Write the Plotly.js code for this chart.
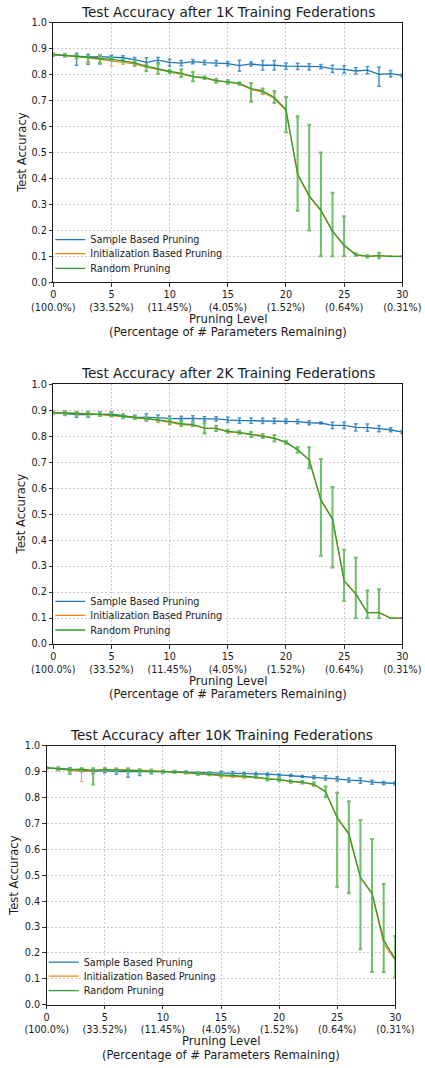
<!DOCTYPE html>
<html>
<head>
<meta charset="utf-8">
<script src="https://cdn.plot.ly/plotly-3.0.1.min.js"></script>
<style>html,body{margin:0;padding:0;background:#fff;}#chart{width:425px;height:1068px;}</style>
</head>
<body>
<div id="chart"></div>
<script>
// ---------- data ----------
const levels = [0,1,2,3,4,5,6,7,8,9,10,11,12,13,14,15,16,17,18,19,20,21,22,23,24,25,26,27,28,29,30];
const tickVals = [0,5,10,15,20,25,30];
const tickLabels = ["0<br>(100.0%)","5<br>(33.52%)","10<br>(11.45%)","15<br>(4.05%)","20<br>(1.52%)","25<br>(0.64%)","30<br>(0.31%)"];
const seriesNames = ["Sample Based Pruning","Initialization Based Pruning","Random Pruning"];
const chartTitles = ["Test Accuracy after 1K Training Federations","Test Accuracy after 2K Training Federations","Test Accuracy after 10K Training Federations"];

// 1K federations
const sample1K = [0.877,0.874,0.872,0.868,0.869,0.867,0.865,0.858,0.847,0.856,0.847,0.844,0.850,0.846,0.844,0.842,0.835,0.841,0.836,0.836,0.833,0.832,0.830,0.831,0.822,0.820,0.814,0.817,0.801,0.804,0.797];
const sample1KUp = [0.005,0.005,0.010,0.010,0.008,0.008,0.008,0.008,0.018,0.010,0.012,0.010,0.008,0.008,0.010,0.008,0.020,0.008,0.018,0.018,0.012,0.012,0.012,0.008,0.014,0.014,0.012,0.014,0.028,0.012,0.005];
const sample1KDn = [0.005,0.005,0.036,0.028,0.028,0.008,0.008,0.008,0.018,0.010,0.014,0.010,0.008,0.008,0.010,0.008,0.022,0.008,0.018,0.018,0.012,0.012,0.012,0.008,0.014,0.014,0.012,0.014,0.046,0.012,0.005];
const init1K = [0.877,0.874,0.869,0.865,0.860,0.853,0.847,0.841,0.829,0.820,0.810,0.803,0.792,0.787,0.776,0.771,0.764,0.743,0.733,0.708,0.662,0.415,0.330,0.276,0.196,0.142,0.106,0.100,0.103,0.100,0.100];
const init1KUp = [0.004,0.004,0.006,0.008,0.010,0.008,0.006,0.008,0.008,0.018,0.006,0.014,0.016,0.005,0.006,0.006,0.005,0.022,0.010,0.022,0.053,0.222,0.277,0.222,0.148,0.111,0.005,0.004,0.010,0,0];
const init1KDn = [0.004,0.004,0.008,0.022,0.016,0.020,0.008,0.010,0.014,0.020,0.006,0.014,0.018,0.005,0.008,0.007,0.005,0.050,0.010,0.018,0.085,0.140,0.130,0.176,0.096,0.042,0.005,0.004,0.010,0,0];
const random1K = [0.877,0.874,0.870,0.867,0.862,0.859,0.853,0.845,0.833,0.823,0.812,0.806,0.792,0.788,0.777,0.772,0.766,0.746,0.737,0.712,0.665,0.417,0.333,0.278,0.197,0.143,0.107,0.100,0.103,0.100,0.100];
const random1KUp = [0.004,0.004,0.006,0.006,0.014,0.006,0.006,0.008,0.006,0.020,0.006,0.015,0.018,0.005,0.007,0.007,0.005,0.022,0.010,0.025,0.048,0.223,0.274,0.222,0.148,0.111,0.005,0.004,0.010,0,0];
const random1KDn = [0.004,0.004,0.006,0.020,0.018,0.006,0.006,0.012,0.020,0.020,0.006,0.015,0.018,0.005,0.007,0.007,0.005,0.050,0.010,0.020,0.087,0.141,0.133,0.178,0.097,0.043,0.005,0.004,0.010,0,0];

// 2K federations
const sample2K = [0.891,0.888,0.883,0.883,0.885,0.885,0.879,0.873,0.873,0.872,0.868,0.869,0.869,0.867,0.867,0.863,0.860,0.860,0.859,0.859,0.858,0.856,0.852,0.851,0.842,0.842,0.834,0.833,0.829,0.825,0.816];
const sample2KErr = [0.004,0.008,0.010,0.010,0.008,0.008,0.006,0.008,0.014,0.010,0.010,0.008,0.010,0.008,0.008,0.010,0.010,0.010,0.010,0.010,0.008,0.008,0.008,0.004,0.012,0.012,0.014,0.014,0.012,0.008,0.006];
const init2K = [0.891,0.891,0.889,0.887,0.884,0.881,0.876,0.872,0.868,0.862,0.853,0.845,0.843,0.831,0.829,0.817,0.813,0.806,0.802,0.793,0.776,0.748,0.708,0.555,0.480,0.243,0.192,0.121,0.121,0.100,0.100];
const init2KUp = [0.004,0.006,0.006,0.008,0.006,0.006,0.008,0.006,0.006,0.006,0.008,0.008,0.006,0.016,0.010,0.006,0.006,0.010,0.008,0.012,0.006,0.010,0.049,0.157,0.125,0.119,0.139,0.085,0.090,0,0];
const init2KDn = [0.008,0.006,0.006,0.008,0.006,0.006,0.008,0.006,0.006,0.010,0.010,0.008,0.006,0.016,0.010,0.006,0.006,0.010,0.008,0.012,0.006,0.012,0.032,0.215,0.185,0.077,0.092,0.021,0.021,0,0];
const random2K = [0.891,0.889,0.887,0.885,0.884,0.882,0.877,0.873,0.869,0.863,0.857,0.848,0.845,0.831,0.830,0.819,0.815,0.807,0.801,0.792,0.777,0.748,0.709,0.555,0.482,0.244,0.193,0.121,0.121,0.100,0.100];
const random2KUp = [0.004,0.006,0.006,0.010,0.006,0.006,0.008,0.006,0.006,0.006,0.010,0.008,0.006,0.020,0.010,0.006,0.006,0.010,0.008,0.012,0.006,0.010,0.049,0.157,0.123,0.119,0.139,0.085,0.090,0,0];
const random2KDn = [0.004,0.006,0.006,0.010,0.006,0.006,0.008,0.006,0.006,0.006,0.010,0.008,0.006,0.020,0.010,0.006,0.006,0.010,0.008,0.012,0.006,0.012,0.032,0.215,0.187,0.077,0.093,0.021,0.021,0,0];

// 10K federations
const sample10K = [0.914,0.912,0.909,0.905,0.901,0.904,0.900,0.900,0.899,0.900,0.900,0.899,0.897,0.895,0.894,0.895,0.894,0.891,0.891,0.890,0.887,0.885,0.881,0.878,0.876,0.872,0.867,0.865,0.859,0.856,0.854];
const sample10KUp = [0.003,0.006,0.006,0.006,0.008,0.008,0.006,0.009,0.008,0.008,0.004,0.004,0.004,0.004,0.004,0.006,0.006,0.006,0.004,0.004,0.004,0.004,0.004,0.006,0.008,0.008,0.008,0.010,0.008,0.006,0.006];
const sample10KDn = [0.003,0.006,0.006,0.006,0.008,0.008,0.010,0.022,0.014,0.008,0.004,0.004,0.004,0.004,0.004,0.006,0.006,0.006,0.004,0.004,0.004,0.004,0.004,0.006,0.008,0.008,0.008,0.010,0.008,0.006,0.006];
const init10K = [0.914,0.911,0.906,0.900,0.905,0.908,0.908,0.907,0.906,0.904,0.901,0.898,0.896,0.893,0.888,0.884,0.882,0.878,0.877,0.872,0.869,0.862,0.858,0.850,0.823,0.720,0.658,0.490,0.428,0.237,0.172];
const init10KUp = [0.003,0.005,0.006,0.008,0.006,0.005,0.005,0.005,0.005,0.005,0.004,0.004,0.004,0.005,0.004,0.005,0.004,0.005,0.004,0.006,0.006,0.005,0.005,0.006,0.020,0.096,0.125,0.221,0.210,0.155,0.090];
const init10KDn = [0.003,0.005,0.008,0.038,0.008,0.005,0.005,0.005,0.005,0.005,0.004,0.004,0.004,0.005,0.004,0.006,0.006,0.005,0.004,0.006,0.006,0.005,0.005,0.006,0.020,0.265,0.228,0.276,0.302,0.111,0.070];
const random10K = [0.914,0.910,0.908,0.909,0.905,0.908,0.906,0.905,0.903,0.901,0.900,0.899,0.897,0.892,0.890,0.887,0.885,0.882,0.879,0.872,0.869,0.862,0.859,0.851,0.822,0.722,0.661,0.492,0.430,0.250,0.175];
const random10KUp = [0.003,0.005,0.005,0.005,0.008,0.005,0.006,0.008,0.006,0.004,0.004,0.004,0.004,0.005,0.004,0.005,0.004,0.004,0.004,0.006,0.006,0.005,0.005,0.007,0.020,0.096,0.125,0.221,0.210,0.216,0.090];
const random10KDn = [0.003,0.005,0.017,0.005,0.055,0.005,0.006,0.008,0.006,0.004,0.004,0.004,0.004,0.005,0.004,0.005,0.004,0.004,0.004,0.006,0.006,0.005,0.005,0.007,0.020,0.267,0.231,0.278,0.304,0.124,0.070];

// ---------- styling ----------
const colors = ["#1f77b4","#ff7f0e","#2ca02c"];
const errColors = ["#4b93c9","#ffa04a","#6cbf6c"];
const errThickness = [1.5, 1.0, 2.0];
const FONT = "DejaVu Sans, Liberation Sans, sans-serif";
const TXT = "#1a1a1a";
const W = 425, H = 1068;

// plot-area boxes in pixels: [left, right, top, bottom]
const boxes = [[53.3,402.3,22.7,282.3],[53.3,402.3,384.3,644.0],[46.7,395.3,745.7,1004.7]];
// legend entry centre offsets above the plot bottom (px)
const legendOffsets = [42.6, 28.6, 14.0];

const chartData = [
  [[sample1K,sample1KUp,sample1KDn],[init1K,init1KUp,init1KDn],[random1K,random1KUp,random1KDn]],
  [[sample2K,sample2KErr,sample2KErr],[init2K,init2KUp,init2KDn],[random2K,random2KUp,random2KDn]],
  [[sample10K,sample10KUp,sample10KDn],[init10K,init10KUp,init10KDn],[random10K,random10KUp,random10KDn]]
];

const traces = [];
const layout = {
  width: W, height: H,
  margin: {l:0,r:0,t:0,b:0},
  paper_bgcolor: "#fff", plot_bgcolor: "#fff",
  font: {family: FONT, color: TXT, size: 10},
  showlegend: true,
  annotations: []
};

let legendIdx = 0;
boxes.forEach((b, i) => {
  const k = i === 0 ? "" : String(i + 1);
  const xa = "x" + k, ya = "y" + k;
  chartData[i].forEach((s, j) => {
    legendIdx += 1;
    const lg = legendIdx === 1 ? "legend" : "legend" + legendIdx;
    traces.push({
      type: "scatter", mode: "lines",
      x: levels, y: s[0],
      name: seriesNames[j],
      xaxis: xa, yaxis: ya,
      legend: lg,
      line: {color: colors[j], width: 1.3},
      error_y: {type: "data", symmetric: false, array: s[1], arrayminus: s[2],
                color: errColors[j], thickness: errThickness[j], width: 1.8},
      hoverinfo: "skip"
    });
    layout[lg] = {
      x: (b[0] - 3)/W, y: 1 - (b[3] - legendOffsets[j])/H, xanchor: "left", yanchor: "middle",
      bgcolor: "rgba(0,0,0,0)", borderwidth: 0,
      font: {size: 9.7, color: TXT, family: FONT},
      itemwidth: 30
    };
  });
  const axCommon = {
    showline: true, linecolor: TXT, linewidth: 1, mirror: true,
    ticks: "outside", ticklen: 3.5, tickwidth: 0.9, tickcolor: TXT,
    showgrid: true, gridcolor: "#b5b5b5", griddash: "2px,2px", gridwidth: 0.7,
    zeroline: false, tickfont: {size: 9.7, color: TXT, family: FONT},
    fixedrange: true
  };
  layout["xaxis" + k] = Object.assign({}, axCommon, {
    domain: [b[0]/W, b[1]/W], range: [0, 30], anchor: ya,
    tickmode: "array", tickvals: tickVals, ticktext: tickLabels
  });
  layout["yaxis" + k] = Object.assign({}, axCommon, {
    domain: [1 - b[3]/H, 1 - b[2]/H], range: [0, 1], anchor: xa,
    tick0: 0, dtick: 0.1, tickformat: ".1f"
  });
  const cx = (b[0] + b[1]) / 2;
  layout.annotations.push({xref:"paper", yref:"paper", x: cx/W, y: 1 - (b[2] - 11)/H,
    xanchor:"center", yanchor:"middle", showarrow:false, text: chartTitles[i],
    font:{size:13.6, color:TXT, family:FONT}});
  layout.annotations.push({xref:"paper", yref:"paper", x: cx/W, y: 1 - (b[3] + 36.5)/H,
    xanchor:"center", yanchor:"middle", showarrow:false, text: "Pruning Level",
    font:{size:11.6, color:TXT, family:FONT}});
  layout.annotations.push({xref:"paper", yref:"paper", x: cx/W, y: 1 - (b[3] + 50)/H,
    xanchor:"center", yanchor:"middle", showarrow:false, text: "(Percentage of # Parameters Remaining)",
    font:{size:11.6, color:TXT, family:FONT}});
  layout.annotations.push({xref:"paper", yref:"paper", x: (b[0] - 32)/W, y: 1 - ((b[2] + b[3])/2)/H,
    xanchor:"center", yanchor:"middle", showarrow:false, text: "Test Accuracy", textangle: -90,
    font:{size:11.6, color:TXT, family:FONT}});
});

Plotly.newPlot("chart", traces, layout, {displayModeBar: false, staticPlot: true});
</script>
</body>
</html>
